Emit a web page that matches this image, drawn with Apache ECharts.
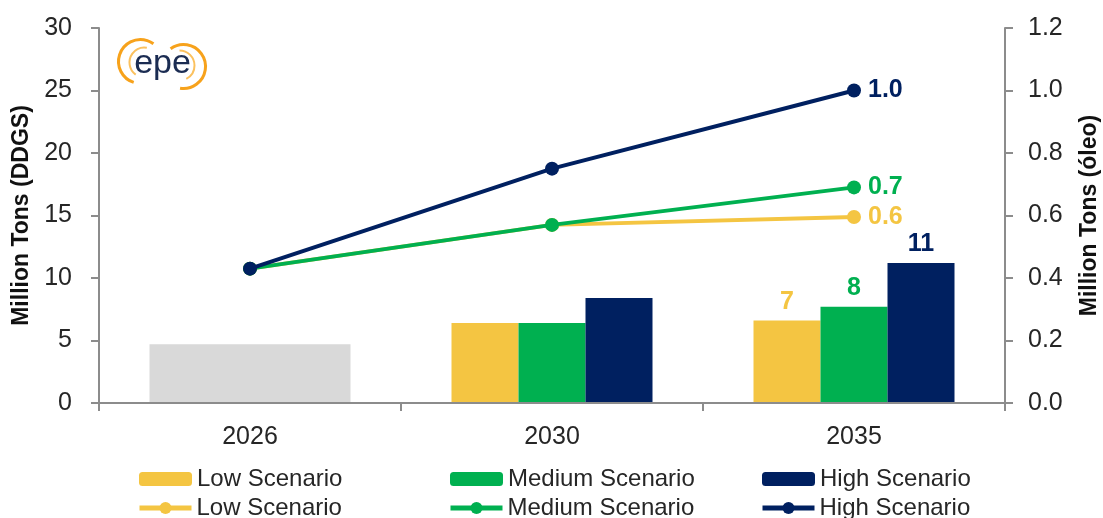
<!DOCTYPE html>
<html>
<head>
<meta charset="utf-8">
<script src="https://cdn.jsdelivr.net/npm/echarts@6/dist/echarts.min.js"></script>
<style>
  html, body { margin: 0; padding: 0; background: #fff; }
  #chart { width: 1103px; height: 518px; }
</style>
</head>
<body>
<div id="chart"></div>
<script>
// Years on the horizontal axis
const years = ['2026', '2030', '2035'];

// DDGS production, million tons (left axis, bars)
const ddgsBase = [4.7, null, null];      // observed base year, common to all scenarios
const ddgsLow = [null, 6.4, 6.6];
const ddgsMedium = [null, 6.4, 7.7];
const ddgsHigh = [null, 8.4, 11.2];

// Corn oil production, million tons (right axis, lines)
const oilLow = [0.43, 0.57, 0.595];
const oilMedium = [0.43, 0.57, 0.69];
const oilHigh = [0.43, 0.75, 1.0];

// Scenario labels
const scenarioNames = ['Low Scenario', 'Medium Scenario', 'High Scenario'];

// Axis ranges
const leftMax = 30, leftStep = 5;
const rightMax = 1.2, rightStep = 0.2;

const FONT = 'Liberation Sans, Arial, sans-serif';
const colors = ['#F4C542', '#00B050', '#002060'];
const baseColor = '#D9D9D9';
const axisGrey = '#8c8c8c';
const textColor = '#262626';
const lastIdx = years.length - 1;
const BAR_W = 67;

const toData = vals => vals.map(v => v === null ? '-' : v);

const barSets = [ddgsLow, ddgsMedium, ddgsHigh];
const lineSets = [oilLow, oilMedium, oilHigh];

const series = [];
// grey base-year block spanning the width of the three scenario bars
series.push({
  name: 'base',
  type: 'bar',
  xAxisIndex: 1,
  yAxisIndex: 0,
  data: toData(ddgsBase),
  barWidth: BAR_W * 3,
  itemStyle: { color: baseColor },
  z: 1
});
barSets.forEach((vals, k) => {
  series.push({
    name: 'bar' + k,
    type: 'bar',
    xAxisIndex: 0,
    yAxisIndex: 0,
    data: toData(vals),
    barGap: '0%',
    barWidth: BAR_W,
    itemStyle: { color: colors[k] },
    label: {
      show: true,
      position: 'top',
      distance: 6,
      color: colors[k],
      fontFamily: FONT,
      fontWeight: 'bold',
      fontSize: 25,
      formatter: p => p.dataIndex === lastIdx ? String(Math.round(p.value)) : ''
    },
    z: 2
  });
});
lineSets.forEach((vals, k) => {
  series.push({
    name: 'line' + k,
    type: 'line',
    xAxisIndex: 0,
    yAxisIndex: 1,
    data: vals,
    symbol: 'circle',
    symbolSize: 14,
    lineStyle: { color: colors[k], width: 4 },
    itemStyle: { color: colors[k] },
    label: {
      show: true,
      position: 'right',
      distance: 7,
      color: colors[k],
      fontFamily: FONT,
      fontWeight: 'bold',
      fontSize: 25,
      formatter: p => p.dataIndex === lastIdx ? p.value.toFixed(1) : ''
    },
    z: 5 + k
  });
});

// Legend: bar keys on the first row, line keys on the second, one column per scenario
const legendText = { fontFamily: FONT, fontSize: 24, color: textColor };
const barKeyLeft = [139, 450, 762];
const lineKeyLeft = [137, 448, 760];
const legends = [];
barKeyLeft.forEach((x, k) => legends.push({
  left: x, top: 467, padding: 0,
  itemWidth: 53, itemHeight: 14, itemGap: 6,
  selectedMode: false,
  textStyle: legendText,
  formatter: () => scenarioNames[k],
  data: ['bar' + k]
}));
lineKeyLeft.forEach((x, k) => legends.push({
  left: x, top: 496, padding: 0,
  itemWidth: 52, itemHeight: 15, itemGap: 5,
  selectedMode: false,
  textStyle: legendText,
  lineStyle: { width: 5 },
  formatter: () => scenarioNames[k],
  data: ['line' + k]
}));

const chart = echarts.init(document.getElementById('chart'), null, { renderer: 'canvas' });
chart.setOption({
  animation: false,
  backgroundColor: '#ffffff',
  textStyle: { fontFamily: FONT },
  grid: { left: 99, right: 98, top: 28, bottom: 115, containLabel: false, outerBoundsMode: 'none' },
  legend: legends,
  xAxis: [
    {
      type: 'category',
      data: years,
      boundaryGap: true,
      axisLine: { lineStyle: { color: axisGrey, width: 2 } },
      axisTick: { show: true, length: 8, lineStyle: { color: axisGrey, width: 2 } },
      axisLabel: { fontFamily: FONT, fontSize: 25, color: textColor, margin: 22 },
      z: 3
    },
    {
      type: 'category',
      data: years,
      boundaryGap: true,
      show: false
    }
  ],
  yAxis: [
    {
      type: 'value',
      min: 0, max: leftMax, interval: leftStep,
      name: 'Million Tons (DDGS)',
      nameLocation: 'middle',
      nameRotate: 90,
      nameGap: 66,
      nameTextStyle: { fontFamily: FONT, fontSize: 23, fontWeight: 'bold', color: '#111' },
      axisLine: { show: true, lineStyle: { color: axisGrey, width: 2 } },
      axisTick: { show: true, length: 8, lineStyle: { color: axisGrey, width: 2 } },
      axisLabel: { fontFamily: FONT, fontSize: 25, color: textColor, margin: 27 },
      splitLine: { show: false }
    },
    {
      type: 'value',
      min: 0, max: rightMax, interval: rightStep,
      name: 'Million Tons (óleo)',
      nameLocation: 'middle',
      nameRotate: 90,
      nameGap: 73,
      nameTextStyle: { fontFamily: FONT, fontSize: 23, fontWeight: 'bold', color: '#111' },
      axisLine: { show: true, lineStyle: { color: axisGrey, width: 2 } },
      axisTick: { show: true, length: 8, lineStyle: { color: axisGrey, width: 2 } },
      axisLabel: { fontFamily: FONT, fontSize: 25, color: textColor, margin: 23,
                   formatter: v => v.toFixed(1) },
      splitLine: { show: false }
    }
  ],
  series: series,
  graphic: [
    {
      type: 'group',
      left: 116, top: 37,
      children: [
        { type: 'arc', shape: { cx: 24, cy: 25, r: 22, startAngle: Math.PI * 0.6, endAngle: Math.PI * 1.7 },
          style: { stroke: '#F7A21B', lineWidth: 3, fill: null } },
        { type: 'arc', shape: { cx: 28, cy: 26, r: 15, startAngle: Math.PI * 0.7, endAngle: Math.PI * 1.55 },
          style: { stroke: '#FBC15E', lineWidth: 2, fill: null } },
        { type: 'arc', shape: { cx: 67, cy: 30, r: 22, startAngle: -Math.PI * 0.7, endAngle: Math.PI * 0.55 },
          style: { stroke: '#F7A21B', lineWidth: 3, fill: null } },
        { type: 'arc', shape: { cx: 63, cy: 29, r: 15, startAngle: -Math.PI * 0.5, endAngle: Math.PI * 0.35 },
          style: { stroke: '#FBC15E', lineWidth: 2, fill: null } },
        { type: 'text', x: 46, y: 27,
          style: { text: 'epe', fontFamily: FONT, fontSize: 34, fill: '#1B2C52',
                   align: 'center', verticalAlign: 'middle' } }
      ]
    }
  ]
});
</script>
</body>
</html>
